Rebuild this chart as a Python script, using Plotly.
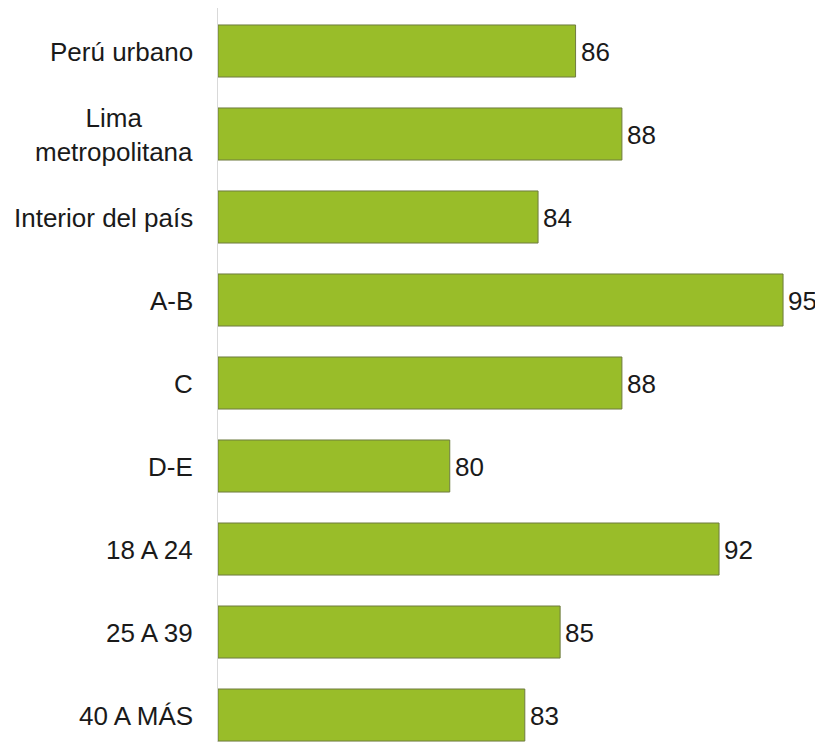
import plotly.graph_objects as go

categories = ["Perú urbano", "Lima<br>metropolitana", "Interior del país", "A-B", "C",
              "D-E", "18 A 24", "25 A 39", "40 A MÁS"]
# bar lengths; printed labels are the rounded values
values = [85.7, 87.8, 84.0, 95.1, 87.8, 80.0, 92.2, 85.0, 83.4]
labels = [str(round(v)) for v in values]

FONT = "Liberation Sans, Arial, Helvetica, sans-serif"
AXIS_MIN = 69.5
positions = list(range(len(categories)))

fig = go.Figure()
fig.add_trace(go.Bar(
    x=[v - AXIS_MIN for v in values], y=positions, orientation="h",
    base=AXIS_MIN,
    width=0.627,
    marker=dict(color="#99BD29", line=dict(color="#6E7B3F", width=1)),
    hoverinfo="skip",
))

for p, v, t in zip(positions, values, labels):
    fig.add_annotation(x=v, y=p, text=t, showarrow=False, xanchor="left",
                       xshift=3, yshift=-1, font=dict(family=FONT, size=26, color="#1a1a1a"))
for p, c in zip(positions, categories):
    fig.add_annotation(x=0, xref="paper", y=p, text=c, showarrow=False, xanchor="right",
                       align="center", xshift=-23, yshift=-1,
                       font=dict(family=FONT, size=26, color="#1a1a1a"))

fig.update_layout(
    width=815, height=734,
    margin=dict(l=210, r=0, t=0, b=0),
    paper_bgcolor="white", plot_bgcolor="white",
    showlegend=False,
    xaxis=dict(range=[AXIS_MIN, 96.91], showgrid=False, zeroline=False, showticklabels=False,
               showline=False, fixedrange=True),
    yaxis=dict(range=[8.325, -0.518], showgrid=False, zeroline=False, showticklabels=False,
               showline=True, linecolor="#d9d9d9", linewidth=1, fixedrange=True),
)
fig.write_html("out.html")
